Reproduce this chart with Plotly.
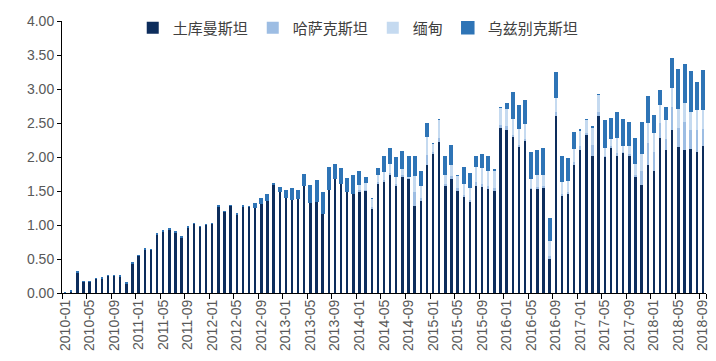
import plotly.graph_objects as go

months = [f"{y}-{m:02d}" for y in range(2010, 2019) for m in range(1, 13)][:105]

turkmenistan = [
    0.00, 0.03, 0.31, 0.17, 0.17, 0.21, 0.22, 0.26, 0.26, 0.25,
    0.15, 0.44, 0.55, 0.65, 0.64, 0.87, 0.91, 0.94, 0.90, 0.82,
    0.97, 1.02, 0.98, 1.01, 1.02, 1.28, 1.20, 1.29, 1.16, 1.28,
    1.27, 1.26, 1.32, 1.36, 1.60, 1.49, 1.41, 1.38, 1.40, 1.59,
    1.34, 1.35, 1.17, 1.53, 1.69, 1.62, 1.50, 1.47, 1.49, 1.50,
    1.23, 1.60, 1.63, 1.73, 1.57, 1.72, 1.69, 1.28, 1.35, 1.88,
    2.04, 2.22, 1.57, 1.68, 1.50, 1.41, 1.34, 1.58, 1.56, 1.53,
    1.50, 2.42, 2.40, 2.29, 2.14, 2.24, 1.53, 1.53, 1.54, 0.50,
    2.61, 1.42, 1.45, 1.88, 2.11, 2.32, 2.02, 2.60, 2.00, 2.14,
    2.01, 2.06, 2.02, 1.70, 1.59, 1.88, 1.80, 2.28, 2.11, 2.39,
    2.14, 2.11, 2.12, 2.07, 2.16,
]

kazakhstan = [0.0] * 48 + [
    0.02, 0.02, 0.03, 0.03, 0.03, 0.04, 0.03, 0.02, 0.01, 0.20,
    0.05, 0.15, 0.03, 0.06, 0.03, 0.04, 0.04, 0.03, 0.03, 0.05,
    0.05, 0.04, 0.05, 0.05, 0.05, 0.04, 0.04, 0.03, 0.02, 0.03,
    0.03, 0.05, 0.05, 0.04, 0.03, 0.04, 0.05, 0.03, 0.15, 0.06,
    0.02, 0.02, 0.05, 0.02, 0.02, 0.04, 0.20, 0.33, 0.28, 0.22,
    0.16, 0.35, 0.28, 0.40, 0.27, 0.33, 0.25,
]

myanmar = [0.0] * 48 + [
    0.09, 0.11, 0.13, 0.12, 0.13, 0.14, 0.12, 0.10, 0.02, 0.25,
    0.18, 0.27, 0.13, 0.27, 0.15, 0.17, 0.19, 0.18, 0.18, 0.23,
    0.24, 0.24, 0.26, 0.26, 0.26, 0.24, 0.24, 0.22, 0.14, 0.19,
    0.18, 0.22, 0.22, 0.19, 0.18, 0.21, 0.24, 0.20, 0.27, 0.26,
    0.12, 0.11, 0.23, 0.10, 0.13, 0.17, 0.27, 0.30, 0.29, 0.28,
    0.28, 0.29, 0.29, 0.30, 0.29, 0.30, 0.29,
]

uzbekistan = [0.0] * 31 + [
    0.05, 0.06, 0.09, 0.00, 0.06, 0.09, 0.15, 0.10, 0.15, 0.24,
    0.30, 0.31, 0.31, 0.20, 0.21, 0.18, 0.26, 0.19, 0.06, 0.00,
    0.07, 0.22, 0.21, 0.27, 0.24, 0.28, 0.28, 0.20, 0.19, 0.00,
    0.00, 0.25, 0.27, 0.00, 0.22, 0.20, 0.15, 0.19, 0.19, 0.00,
    0.00, 0.07, 0.37, 0.33, 0.34, 0.37, 0.34, 0.37, 0.32, 0.36,
    0.35, 0.32, 0.22, 0.00, 0.00, 0.00, 0.00, 0.39, 0.29, 0.36,
    0.37, 0.34, 0.36, 0.45, 0.37, 0.23, 0.19, 0.17, 0.42, 0.57,
    0.54, 0.57, 0.39, 0.57,
]

series = [
    ("土库曼斯坦", turkmenistan, "#0d2d5c", 0),
    ("哈萨克斯坦", kazakhstan, "#9dbde3", 0),
    ("缅甸", myanmar, "#c5daf0", 0),
    ("乌兹别克斯坦", uzbekistan, "#2e74b6", 1.5),
]

fig = go.Figure()
for name, vals, color, lw in series:
    fig.add_trace(go.Bar(
        x=months, y=vals, name=name,
        marker=dict(color=color, line=dict(color=color, width=lw)),
    ))

tick_font = dict(family="Liberation Sans, Arial, sans-serif", size=14, color="#595959")

fig.update_layout(
    barmode="stack",
    bargap=0.6,
    width=716, height=361,
    margin=dict(l=54, r=18, t=13, b=76, autoexpand=False),
    plot_bgcolor="white", paper_bgcolor="white",
    legend=dict(
        orientation="h", x=0.46, xanchor="center", y=1.035, yanchor="top",
        font=dict(family="Noto Sans CJK SC", size=15, color="#404040"),
        bgcolor="rgba(0,0,0,0)", traceorder="normal",
        itemwidth=30,
    ),
    xaxis=dict(
        type="category",
        tickmode="array", tickvals=months[::4], ticktext=months[::4],
        tickangle=-90, tickfont=tick_font,
        showline=True, linecolor="black", linewidth=1,
        ticks="outside", ticklen=5, tickcolor="black", tickson="boundaries",
        showgrid=False, automargin=False,
    ),
    yaxis=dict(
        range=[0, 4], dtick=0.5, tickformat=".2f", tickfont=tick_font,
        showline=True, linecolor="black", linewidth=1,
        ticks="outside", ticklen=4, tickcolor="black",
        showgrid=False, zeroline=False, automargin=False,
    ),
)

fig.write_html("out.html")
